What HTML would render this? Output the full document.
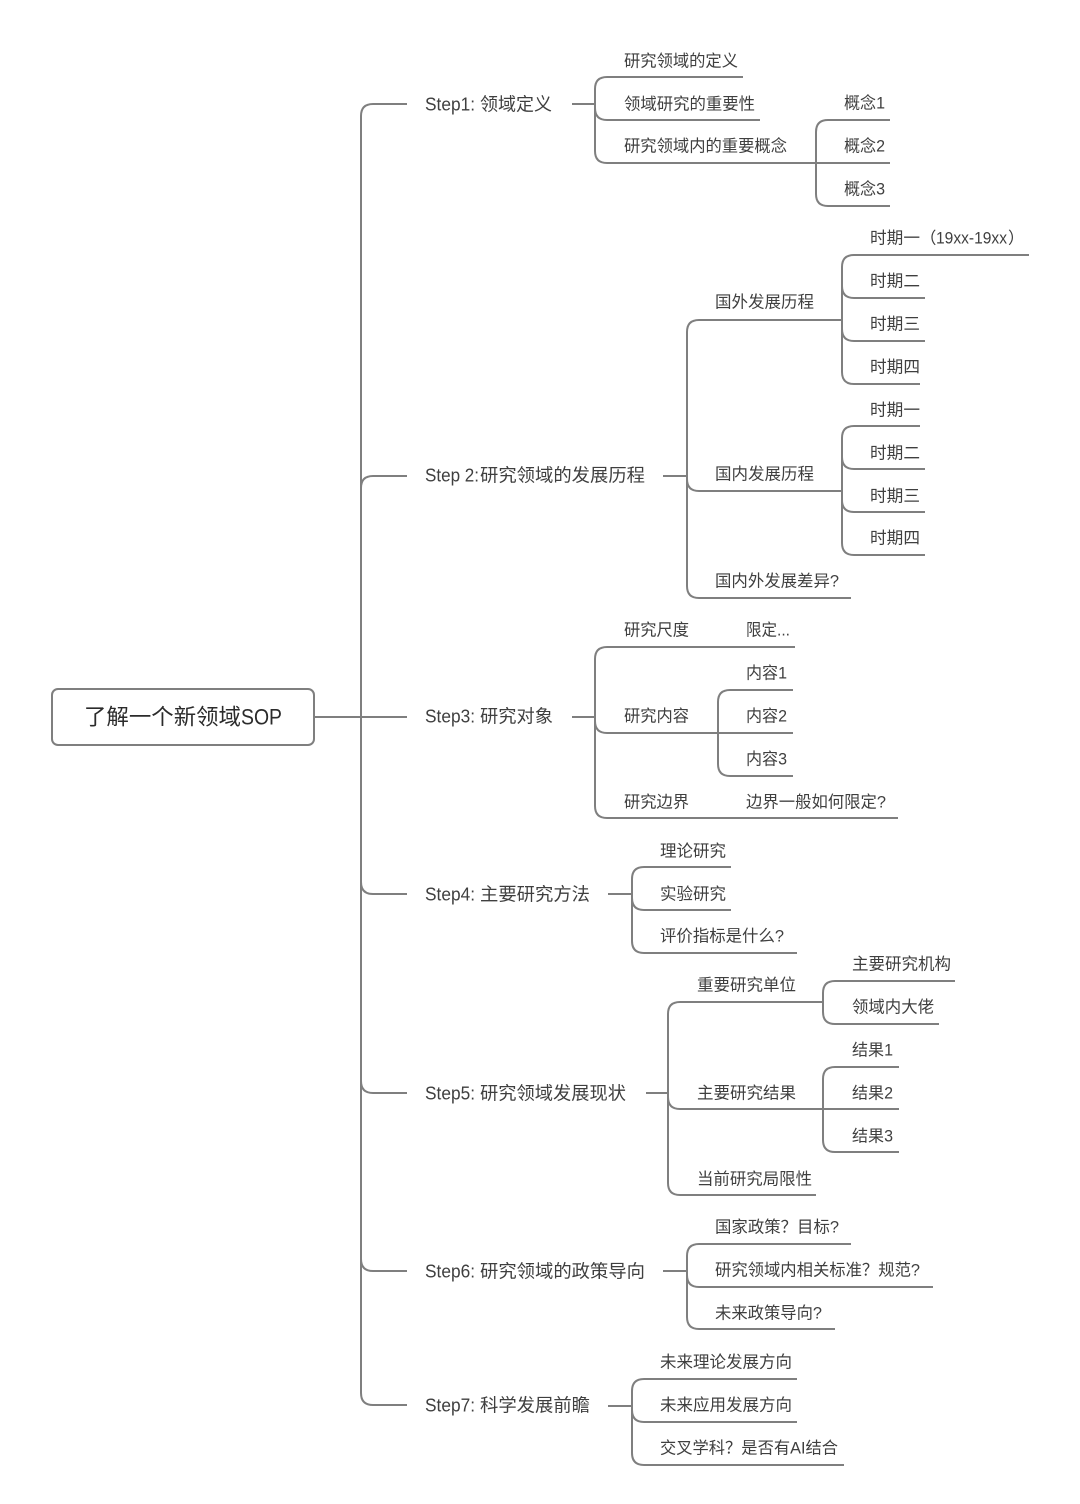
<!DOCTYPE html>
<html><head><meta charset="utf-8"><style>
html,body{margin:0;padding:0;background:#fff;width:1080px;height:1504px;overflow:hidden}
svg{display:block;filter:blur(0.3px)}
text{font-family:"Liberation Sans","Noto Sans CJK SC",sans-serif;fill:#3f3f3f;font-size:16.4px;dominant-baseline:auto}
.s{font-size:18px}
.r{font-size:22px;fill:#2b2b2b}
path,rect,line{fill:none;stroke:#7f7f7f;stroke-width:2}
</style></head><body>
<svg width="1080" height="1504" viewBox="0 0 1080 1504" xmlns="http://www.w3.org/2000/svg">
<rect x="52" y="689" width="262" height="56" rx="6"/>
<path d="M314 717H407"/>
<path d="M407 104H373Q361 104 361 116V1393Q361 1405 373 1405H407"/>
<path d="M361 488Q361 476 373 476H407M361 882Q361 894 373 894H407M361 1081Q361 1093 373 1093H407M361 1259Q361 1271 373 1271H407"/>
<!-- step1 -->
<path d="M572 104H595"/>
<path d="M743 77H607Q595 77 595 89V151Q595 163 607 163H890"/>
<path d="M595 108Q595 120 607 120H760"/>
<path d="M890 120H828Q816 120 816 132V194Q816 206 828 206H890"/>
<!-- step2 -->
<path d="M663 476H687"/>
<path d="M842 320H699Q687 320 687 332V586Q687 598 699 598H851"/>
<path d="M687 479Q687 491 699 491H842"/>
<path d="M1029 255H854Q842 255 842 267V372Q842 384 854 384H920"/>
<path d="M842 286Q842 298 854 298H925M842 329Q842 341 854 341H925"/>
<path d="M920 426H854Q842 426 842 438V543Q842 555 854 555H925"/>
<path d="M842 457Q842 469 854 469H925M842 500Q842 512 854 512H925"/>
<!-- step3 -->
<path d="M572 717H595"/>
<path d="M795 647H607Q595 647 595 659V806Q595 818 607 818H898"/>
<path d="M595 721Q595 733 607 733H793"/>
<path d="M793 690H730Q718 690 718 702V764Q718 776 730 776H793"/>
<!-- step4 -->
<path d="M608 894H632"/>
<path d="M731 867H644Q632 867 632 879V941Q632 953 644 953H797"/>
<path d="M632 898Q632 910 644 910H731"/>
<!-- step5 -->
<path d="M646 1093H668"/>
<path d="M823 1002H680Q668 1002 668 1014V1183Q668 1195 680 1195H816"/>
<path d="M668 1097Q668 1109 680 1109H899"/>
<path d="M955 981H835Q823 981 823 993V1012Q823 1024 835 1024H939"/>
<path d="M899 1067H835Q823 1067 823 1079V1140Q823 1152 835 1152H899"/>
<!-- step6 -->
<path d="M663 1271H687"/>
<path d="M851 1244H699Q687 1244 687 1256V1317Q687 1329 699 1329H835"/>
<path d="M687 1275Q687 1287 699 1287H933"/>
<!-- step7 -->
<path d="M608 1406H632"/>
<path d="M797 1379H644Q632 1379 632 1391V1453Q632 1465 644 1465H844"/>
<path d="M632 1410Q632 1422 644 1422H797"/>

<g transform="translate(0,0.6)">
<text class="r" x="84" y="724" textLength="157" lengthAdjust="spacingAndGlyphs">了解一个新领域</text>
<text class="r" x="241" y="724" textLength="41" lengthAdjust="spacingAndGlyphs">SOP</text>

<text class="s" x="425" y="110" textLength="50" lengthAdjust="spacingAndGlyphs">Step1:</text>
<text class="s" x="480" y="110" textLength="72" lengthAdjust="spacingAndGlyphs">领域定义</text>
<text class="s" x="425" y="481" textLength="54" lengthAdjust="spacingAndGlyphs">Step 2:</text>
<text class="s" x="480" y="481" textLength="165" lengthAdjust="spacingAndGlyphs">研究领域的发展历程</text>
<text class="s" x="425" y="722" textLength="50" lengthAdjust="spacingAndGlyphs">Step3:</text>
<text class="s" x="480" y="722" textLength="73" lengthAdjust="spacingAndGlyphs">研究对象</text>
<text class="s" x="425" y="900" textLength="50" lengthAdjust="spacingAndGlyphs">Step4:</text>
<text class="s" x="480" y="900" textLength="110" lengthAdjust="spacingAndGlyphs">主要研究方法</text>
<text class="s" x="425" y="1099" textLength="50" lengthAdjust="spacingAndGlyphs">Step5:</text>
<text class="s" x="480" y="1099" textLength="146" lengthAdjust="spacingAndGlyphs">研究领域发展现状</text>
<text class="s" x="425" y="1277" textLength="50" lengthAdjust="spacingAndGlyphs">Step6:</text>
<text class="s" x="480" y="1277" textLength="165" lengthAdjust="spacingAndGlyphs">研究领域的政策导向</text>
<text class="s" x="425" y="1411" textLength="50" lengthAdjust="spacingAndGlyphs">Step7:</text>
<text class="s" x="480" y="1411" textLength="110" lengthAdjust="spacingAndGlyphs">科学发展前瞻</text>

<text x="624" y="66" textLength="114" lengthAdjust="spacingAndGlyphs">研究领域的定义</text>
<text x="624" y="109" textLength="131" lengthAdjust="spacingAndGlyphs">领域研究的重要性</text>
<text x="624" y="151" textLength="163" lengthAdjust="spacingAndGlyphs">研究领域内的重要概念</text>
<text x="844" y="108" textLength="41" lengthAdjust="spacingAndGlyphs">概念1</text>
<text x="844" y="151" textLength="41" lengthAdjust="spacingAndGlyphs">概念2</text>
<text x="844" y="194" textLength="41" lengthAdjust="spacingAndGlyphs">概念3</text>

<text x="715" y="307" textLength="99" lengthAdjust="spacingAndGlyphs">国外发展历程</text>
<text x="715" y="479" textLength="99" lengthAdjust="spacingAndGlyphs">国内发展历程</text>
<text x="715" y="586" textLength="124" lengthAdjust="spacingAndGlyphs">国内外发展差异?</text>
<text x="870" y="243" textLength="50" lengthAdjust="spacingAndGlyphs">时期一</text>
<text x="920" y="243">（</text>
<text x="936" y="243" textLength="71" lengthAdjust="spacingAndGlyphs">19xx-19xx</text>
<text x="1008" y="243">）</text>
<text x="870" y="286" textLength="50" lengthAdjust="spacingAndGlyphs">时期二</text>
<text x="870" y="329" textLength="50" lengthAdjust="spacingAndGlyphs">时期三</text>
<text x="870" y="372" textLength="50" lengthAdjust="spacingAndGlyphs">时期四</text>
<text x="870" y="415" textLength="50" lengthAdjust="spacingAndGlyphs">时期一</text>
<text x="870" y="458" textLength="50" lengthAdjust="spacingAndGlyphs">时期二</text>
<text x="870" y="501" textLength="50" lengthAdjust="spacingAndGlyphs">时期三</text>
<text x="870" y="543" textLength="50" lengthAdjust="spacingAndGlyphs">时期四</text>

<text x="624" y="635" textLength="65" lengthAdjust="spacingAndGlyphs">研究尺度</text>
<text x="746" y="635" textLength="44" lengthAdjust="spacingAndGlyphs">限定...</text>
<text x="624" y="721" textLength="65" lengthAdjust="spacingAndGlyphs">研究内容</text>
<text x="746" y="678" textLength="41" lengthAdjust="spacingAndGlyphs">内容1</text>
<text x="746" y="721" textLength="41" lengthAdjust="spacingAndGlyphs">内容2</text>
<text x="746" y="764" textLength="41" lengthAdjust="spacingAndGlyphs">内容3</text>
<text x="624" y="807" textLength="65" lengthAdjust="spacingAndGlyphs">研究边界</text>
<text x="746" y="807" textLength="140" lengthAdjust="spacingAndGlyphs">边界一般如何限定?</text>

<text x="660" y="856" textLength="66" lengthAdjust="spacingAndGlyphs">理论研究</text>
<text x="660" y="899" textLength="66" lengthAdjust="spacingAndGlyphs">实验研究</text>
<text x="660" y="941" textLength="124" lengthAdjust="spacingAndGlyphs">评价指标是什么?</text>

<text x="697" y="990" textLength="99" lengthAdjust="spacingAndGlyphs">重要研究单位</text>
<text x="697" y="1098" textLength="99" lengthAdjust="spacingAndGlyphs">主要研究结果</text>
<text x="697" y="1184" textLength="115" lengthAdjust="spacingAndGlyphs">当前研究局限性</text>
<text x="852" y="969" textLength="99" lengthAdjust="spacingAndGlyphs">主要研究机构</text>
<text x="852" y="1012" textLength="82" lengthAdjust="spacingAndGlyphs">领域内大佬</text>
<text x="852" y="1055" textLength="41" lengthAdjust="spacingAndGlyphs">结果1</text>
<text x="852" y="1098" textLength="41" lengthAdjust="spacingAndGlyphs">结果2</text>
<text x="852" y="1141" textLength="41" lengthAdjust="spacingAndGlyphs">结果3</text>

<text x="715" y="1232" textLength="124" lengthAdjust="spacingAndGlyphs">国家政策？目标?</text>
<text x="715" y="1275" textLength="205" lengthAdjust="spacingAndGlyphs">研究领域内相关标准？规范?</text>
<text x="715" y="1318" textLength="107" lengthAdjust="spacingAndGlyphs">未来政策导向?</text>

<text x="660" y="1367" textLength="132" lengthAdjust="spacingAndGlyphs">未来理论发展方向</text>
<text x="660" y="1410" textLength="132" lengthAdjust="spacingAndGlyphs">未来应用发展方向</text>
<text x="660" y="1453" textLength="178" lengthAdjust="spacingAndGlyphs">交叉学科？是否有AI结合</text>
</g>
</svg>
</body></html>
